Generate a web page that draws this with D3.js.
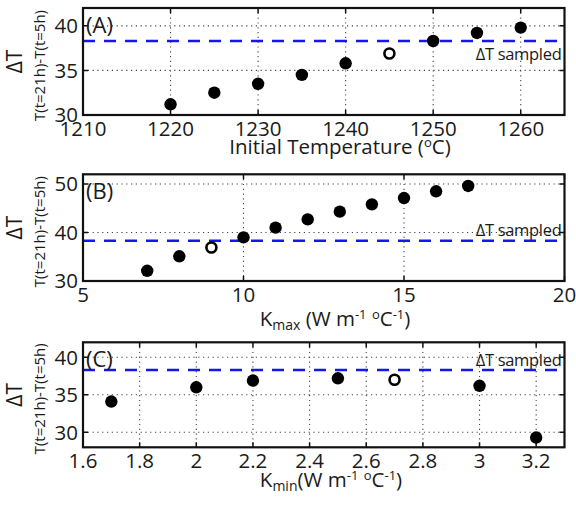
<!DOCTYPE html>
<html>
<head>
<meta charset="utf-8">
<script src="https://cdn.jsdelivr.net/npm/d3@7"></script>
<style>
  body { margin: 0; background: #fff; }
  text { font-family: "Open Sans", sans-serif; fill: #1a1a1a; }
</style>
</head>
<body>
<div id="chart"></div>
<script>
// ---- data ----
const dtSampled = 38.3;

// (A) initial temperature
const tempA = [1220, 1225, 1230, 1235, 1240, 1250, 1255, 1260];
const dtA = [31.2, 32.5, 33.5, 34.5, 35.8, 38.3, 39.2, 39.8];
const tempAOpen = [1245];
const dtAOpen = [36.9];
const xTicksA = [1210, 1220, 1230, 1240, 1250, 1260];
const yTicksA = [30, 35, 40];

// (B) Kmax
const kmaxB = [7, 8, 10, 11, 12, 13, 14, 15, 16, 17];
const dtB = [32.1, 35.1, 39.0, 41.0, 42.7, 44.3, 45.8, 47.1, 48.5, 49.6];
const kmaxBOpen = [9];
const dtBOpen = [36.9];
const xTicksB = [5, 10, 15, 20];
const yTicksB = [30, 40, 50];

// (C) Kmin
const kminC = [1.7, 2.0, 2.2, 2.5, 3.0, 3.2];
const dtC = [34.1, 36.0, 36.9, 37.2, 36.2, 29.3];
const kminCOpen = [2.7];
const dtCOpen = [37.0];
const xTicksC = [1.6, 1.8, 2.0, 2.2, 2.4, 2.6, 2.8, 3.0, 3.2];
const yTicksC = [30, 35, 40];

const width = 576, height = 505;
const left = 83, right = 564.5;

const svg = d3.select('#chart')
  .append('svg')
    .attr('width', width)
    .attr('height', height);

const panels = [
  { tag: '(A)', xs: tempA, ys: dtA, xo: tempAOpen, yo: dtAOpen,
    xDomain: [1210, 1265], yDomain: [30, 42], xTicks: xTicksA, yTicks: yTicksA,
    top: 8, bottom: 115, fmt: d3.format('d'), sampledY: 60,
    title: [['Initial Temperature (', 0], ['o', 1], ['C)', 0]], titleX: 340, titleY: 154 },
  { tag: '(B)', xs: kmaxB, ys: dtB, xo: kmaxBOpen, yo: dtBOpen,
    xDomain: [5, 20], yDomain: [30, 52], xTicks: xTicksB, yTicks: yTicksB,
    top: 174.3, bottom: 281, fmt: d3.format('d'), sampledY: 236,
    title: [['K', 0], ['max', -1], [' (W m', 0], ['-1', 1], [' ', 0], ['o', 1], ['C', 0], ['-1', 1], [')', 0]],
    titleX: 335, titleY: 326 },
  { tag: '(C)', xs: kminC, ys: dtC, xo: kminCOpen, yo: dtCOpen,
    xDomain: [1.6, 3.3], yDomain: [28, 42], xTicks: xTicksC, yTicks: yTicksC,
    top: 342.3, bottom: 447.3, fmt: d => d3.format('~g')(d), sampledY: 366,
    title: [['K', 0], ['min', -1], ['(W m', 0], ['-1', 1], [' ', 0], ['o', 1], ['C', 0], ['-1', 1], [')', 0]],
    titleX: 331, titleY: 487 }
];

panels.forEach(drawPanel);

function drawPanel(p) {
  const g = svg.append('g');
  const x = d3.scaleLinear().domain(p.xDomain).range([left, right]);
  const y = d3.scaleLinear().domain(p.yDomain).range([p.bottom, p.top]);

  // dotted grid
  g.selectAll('.vgrid')
    .data(p.xTicks.filter(t => x(t) > left + 1 && x(t) < right - 1))
    .join('line')
      .attr('x1', d => x(d)).attr('x2', d => x(d))
      .attr('y1', p.top).attr('y2', p.bottom)
      .attr('stroke', '#444').attr('stroke-width', 1.1)
      .attr('stroke-dasharray', '1.2,3.6');

  g.selectAll('.hgrid')
    .data(p.yTicks.filter(t => y(t) > p.top + 1 && y(t) < p.bottom - 1))
    .join('line')
      .attr('x1', left).attr('x2', right)
      .attr('y1', d => y(d)).attr('y2', d => y(d))
      .attr('stroke', '#444').attr('stroke-width', 1.1)
      .attr('stroke-dasharray', '1.2,3.6');

  // sampled dT
  g.append('text')
    .attr('x', right - 3)
    .attr('y', p.sampledY)
    .attr('text-anchor', 'end')
    .attr('font-size', 16.5)
    .attr('letter-spacing', -0.3)
    .text('\u0394T sampled');

  g.append('line')
    .attr('x1', left).attr('x2', right)
    .attr('y1', y(dtSampled)).attr('y2', y(dtSampled))
    .attr('stroke', '#1515f0').attr('stroke-width', 2.6)
    .attr('stroke-dasharray', '12,9');

  // ticks (inward, on all four sides)
  const tl = 5;
  g.selectAll('.xtick')
    .data(p.xTicks)
    .join('path')
      .attr('d', d => `M${x(d)},${p.bottom}v${-tl}M${x(d)},${p.top}v${tl}`)
      .attr('stroke', '#111').attr('stroke-width', 1.5);
  g.selectAll('.ytick')
    .data(p.yTicks)
    .join('path')
      .attr('d', d => `M${left},${y(d)}h${tl}M${right},${y(d)}h${-tl}`)
      .attr('stroke', '#111').attr('stroke-width', 1.5);

  // frame
  g.append('rect')
    .attr('x', left).attr('y', p.top)
    .attr('width', right - left).attr('height', p.bottom - p.top)
    .attr('fill', 'none').attr('stroke', '#111').attr('stroke-width', 2.2);

  // tick labels
  g.selectAll('.xlab')
    .data(p.xTicks)
    .join('text')
      .attr('x', d => x(d))
      .attr('y', p.bottom + 21)
      .attr('text-anchor', 'middle')
      .attr('font-size', 20.5)
      .text(p.fmt);
  g.selectAll('.ylab')
    .data(p.yTicks)
    .join('text')
      .attr('x', left - 5)
      .attr('y', d => y(d))
      .attr('dy', '0.36em')
      .attr('text-anchor', 'end')
      .attr('font-size', 20.5)
      .text(d => d);

  // points
  g.selectAll('.pt')
    .data(p.xs.map((d, i) => [d, p.ys[i]]))
    .join('circle')
      .attr('cx', d => x(d[0])).attr('cy', d => y(d[1]))
      .attr('r', 6.2).attr('fill', '#000');
  g.selectAll('.open')
    .data(p.xo.map((d, i) => [d, p.yo[i]]))
    .join('circle')
      .attr('cx', d => x(d[0])).attr('cy', d => y(d[1]))
      .attr('r', 5).attr('fill', '#fff')
      .attr('stroke', '#000').attr('stroke-width', 2.6);

  // panel tag
  g.append('text')
    .attr('x', left + 3)
    .attr('y', p.top + 25)
    .attr('font-size', 22)
    .text(p.tag);

  // x title with sub/superscripts
  const t = g.append('text')
    .attr('x', p.titleX)
    .attr('y', p.titleY)
    .attr('text-anchor', 'middle')
    .attr('font-size', 20.5);
  p.title.forEach(([s, k]) => {
    const ts = t.append('tspan').text(s);
    if (k === 1) ts.attr('font-size', 13).attr('baseline-shift', '55%');
    if (k === -1) ts.attr('font-size', 14).attr('baseline-shift', '-30%');
  });

  // y titles
  const cy = (p.top + p.bottom) / 2;
  g.append('text')
    .attr('transform', `translate(22,${cy}) rotate(-90)`)
    .attr('text-anchor', 'middle')
    .attr('font-size', 21)
    .text('\u0394T');
  g.append('text')
    .attr('transform', `translate(45,${cy + 4}) rotate(-90)`)
    .attr('text-anchor', 'middle')
    .attr('font-size', 15)
    .text('T(t=21h)-T(t=5h)');
}
</script>
</body>
</html>
